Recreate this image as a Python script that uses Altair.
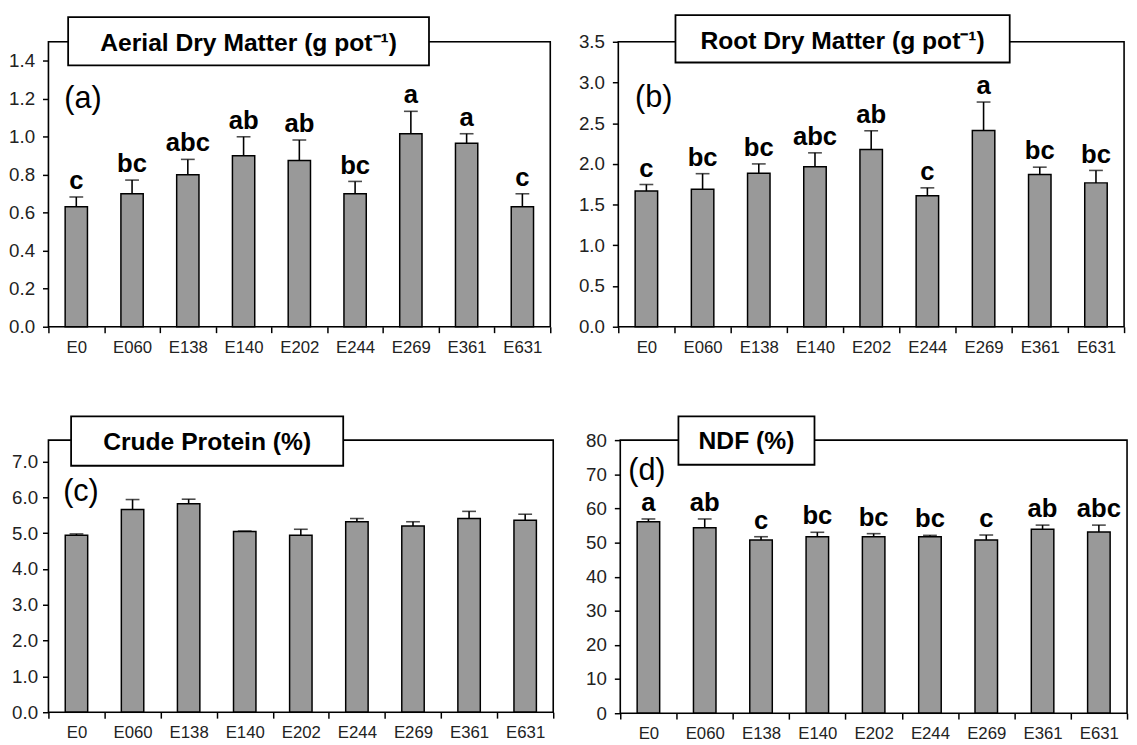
import altair as alt
import pandas as pd

cats = ["E0", "E060", "E138", "E140", "E202", "E244", "E269", "E361", "E631"]

# (a) Aerial dry matter (g pot-1)
adm_mean = [0.632, 0.70, 0.80, 0.90, 0.875, 0.70, 1.016, 0.966, 0.632]
adm_se = [0.051, 0.072, 0.081, 0.10, 0.108, 0.065, 0.118, 0.05, 0.068]
adm_letters = ["c", "bc", "abc", "ab", "ab", "bc", "a", "a", "c"]

# (b) Root dry matter (g pot-1)
rdm_mean = [1.666, 1.69, 1.885, 1.966, 2.176, 1.61, 2.41, 1.869, 1.767]
rdm_se = [0.081, 0.19, 0.115, 0.17, 0.231, 0.096, 0.35, 0.091, 0.153]
rdm_letters = ["c", "bc", "bc", "abc", "ab", "c", "a", "bc", "bc"]

# (c) Crude protein (%)
cp_mean = [4.94, 5.66, 5.82, 5.05, 4.94, 5.32, 5.20, 5.41, 5.36]
cp_se = [0.04, 0.28, 0.13, 0.01, 0.17, 0.09, 0.12, 0.20, 0.17]
cp_letters = ["", "", "", "", "", "", "", "", ""]

# (d) NDF (%)
ndf_mean = [56.1, 54.3, 50.75, 51.7, 51.7, 51.7, 50.75, 53.9, 53.1]
ndf_se = [0.8, 2.6, 0.95, 1.3, 0.9, 0.4, 1.45, 1.2, 2.0]
ndf_letters = ["a", "ab", "c", "bc", "bc", "bc", "c", "ab", "abc"]

FONT = "Liberation Sans"


def panel(mean, se, letters, domain, ticks, fmt, w, h, minext, ypad, box, title, title_dy,
          tag, tagpos):
    df = pd.DataFrame({
        "cat": cats,
        "mean": mean,
        "top": [m + s for m, s in zip(mean, se)],
        "lab": letters,
    })
    one = pd.DataFrame({"k": [0]})
    xenc = alt.X(
        "cat:N", sort=cats,
        scale=alt.Scale(paddingInner=0, paddingOuter=0),
        axis=alt.Axis(title=None, labelAngle=0, tickBand="extent", tickSize=6,
                      tickColor="black", tickWidth=1.5, domain=False,
                      labelPadding=7, labelFontSize=17, labelColor="#222", labelFont=FONT),
    )
    yenc = alt.Y(
        "mean:Q",
        scale=alt.Scale(domain=domain, nice=False, zero=True),
        axis=alt.Axis(title=None, values=ticks, tickCount=len(ticks), format=fmt,
                      tickSize=6, tickColor="black", tickWidth=1.5, domain=False,
                      grid=False, labelPadding=ypad, labelFontSize=19, labelColor="#222",
                      labelFont=FONT, minExtent=minext, labelOverlap=False),
    )
    base = alt.Chart(df)
    bars = base.mark_bar(width=alt.RelativeBandSize(0.4), color="#999999",
                         stroke="black", strokeWidth=1.5).encode(x=xenc, y=yenc)
    rule = base.mark_rule(color="black", strokeWidth=1.6).encode(
        x=alt.X("cat:N", sort=cats), y="mean:Q", y2="top:Q")
    cap = base.mark_tick(color="black", size=14, thickness=1.6).encode(
        x=alt.X("cat:N", sort=cats), y="top:Q")
    lab = base.mark_text(baseline="alphabetic", dy=-8, fontSize=26, fontWeight="bold",
                         font=FONT, color="black").encode(
        x=alt.X("cat:N", sort=cats), y="top:Q", text="lab:N")
    frame = alt.Chart(one).mark_rect(fill=None, stroke="black", strokeWidth=1.6).encode(
        x=alt.value(0), x2=alt.value(w), y=alt.value(0), y2=alt.value(h))
    boxr = alt.Chart(one).mark_rect(fill="white", stroke="black", strokeWidth=1.8).encode(
        x=alt.value(box[0]), x2=alt.value(box[1]), y=alt.value(box[2]), y2=alt.value(box[3]))
    ttl = alt.Chart(one).mark_text(align="center", baseline="middle", fontSize=25,
                                   fontWeight="bold", font=FONT, color="black").encode(
        x=alt.value((box[0] + box[1]) / 2), y=alt.value((box[2] + box[3]) / 2 + title_dy),
        text=alt.value(title))
    tg = alt.Chart(one).mark_text(align="center", baseline="middle", fontSize=31,
                                  font=FONT, color="black").encode(
        x=alt.value(tagpos[0]), y=alt.value(tagpos[1]), text=alt.value(tag))
    return alt.layer(bars, rule, cap, lab, frame, boxr, ttl, tg).properties(width=w, height=h)


pa = panel(adm_mean, adm_se, adm_letters, [0, 1.5], [0, 0.2, 0.4, 0.6, 0.8, 1.0, 1.2, 1.4], ".1f",
           509, 289, 40, 8, (20, 386, -25, 24), "Aerial Dry Matter (g pot\u207b\u00b9)", 2,
           "(a)", (35, 58))
pb = panel(rdm_mean, rdm_se, rdm_letters, [0, 3.5], [0, 0.5, 1.0, 1.5, 2.0, 2.5, 3.0, 3.5], ".1f",
           513, 289, 40, 8, (58, 397, -27, 21), "Root Dry Matter (g pot\u207b\u00b9)", 2,
           "(b)", (36, 57))
pc = panel(cp_mean, cp_se, cp_letters, [0, 7.6], [0, 1, 2, 3, 4, 5, 6, 7], ".1f",
           512, 276, 37, 5, (23, 299, -24, 26), "Crude Protein (%)", 1, "(c)", (33, 53))
pd_ = panel(ndf_mean, ndf_se, ndf_letters, [0, 80], [0, 10, 20, 30, 40, 50, 60, 70, 80], "d",
            514, 277, 35, 8, (59, 197, -24, 25), "NDF (%)", 1, "(d)", (27, 31))

row1 = alt.hconcat(pa, pb, spacing=26)
row2 = alt.hconcat(pc, pd_, spacing=30)

chart = alt.vconcat(row1, row2, spacing=59).properties(
    padding={"left": 0, "top": 0, "right": 0, "bottom": 0}
).configure_view(stroke=None).configure(background="white")

chart.save("out.html", embed_options={"renderer": "svg", "actions": False})
